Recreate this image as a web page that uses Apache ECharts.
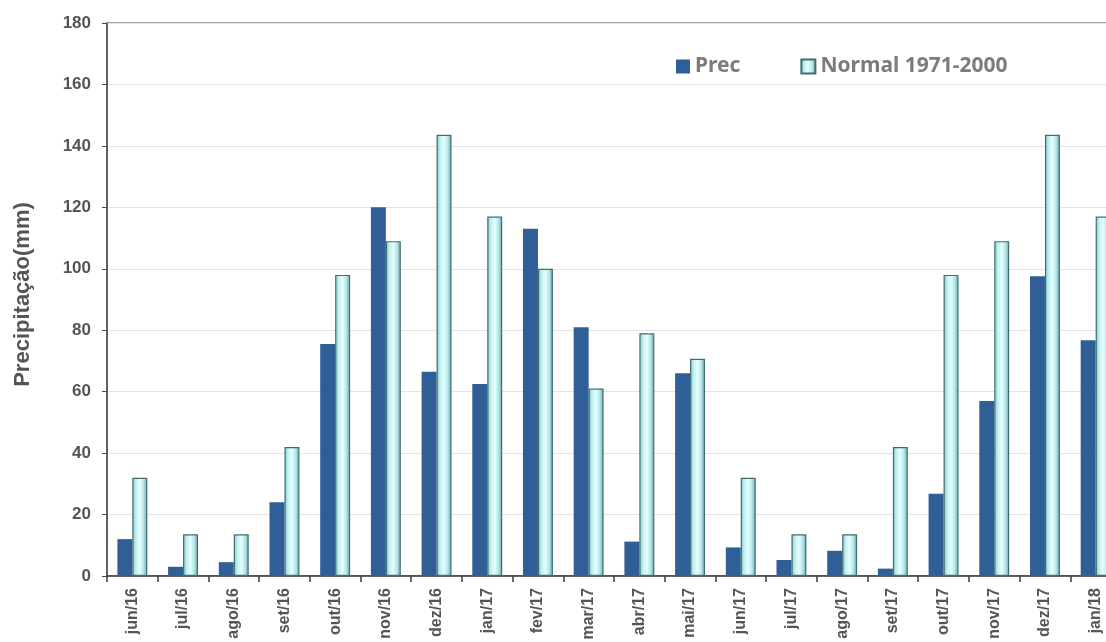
<!DOCTYPE html>
<html>
<head>
<meta charset="utf-8">
<script src="https://cdn.jsdelivr.net/npm/echarts@6/dist/echarts.min.js"></script>
<style>
  html, body { margin: 0; padding: 0; background: #ffffff; }
  #chart { width: 1106px; height: 642px; }
</style>
</head>
<body>
<div id="chart"></div>
<script>
// Monthly precipitation vs. climatological normal
const categories = ['jun/16', 'jul/16', 'ago/16', 'set/16', 'out/16', 'nov/16', 'dez/16',
  'jan/17', 'fev/17', 'mar/17', 'abr/17', 'mai/17', 'jun/17', 'jul/17', 'ago/17',
  'set/17', 'out/17', 'nov/17', 'dez/17', 'jan/18'];

const precValues = [12, 3, 4.5, 24, 75.5, 120, 66.5, 62.5, 113, 81, 11.2, 66, 9.3, 5.2, 8.2,
  2.4, 26.8, 57, 97.6, 76.7];

const normalValues = [32, 13.6, 13.6, 42, 98, 109, 143.6, 117, 100, 61, 79, 70.7, 32, 13.6, 13.6,
  42, 98, 109, 143.6, 117];

const yTicks = { min: 0, max: 180, step: 20 };

const seriesNames = ['Prec', 'Normal 1971-2000'];
const axisTitle = 'Precipitação(mm)';

const labelFont = '"Liberation Sans", Arial, sans-serif';
const legendFont = '"Noto Sans", "Open Sans", sans-serif';

const chart = echarts.init(document.getElementById('chart'), null, { renderer: 'canvas' });

// Cylinder-like shading for the normal bars
const cylinderFill = new echarts.graphic.LinearGradient(0, 0, 1, 0, [
  { offset: 0, color: '#86c4c6' },
  { offset: 0.25, color: '#c4f1f2' },
  { offset: 0.5, color: '#e4ffff' },
  { offset: 0.75, color: '#b6e6e8' },
  { offset: 1, color: '#6aa4a6' }
]);

chart.setOption({
  animation: false,
  backgroundColor: '#ffffff',
  grid: {
    left: 107,
    top: 23,
    width: 1014,
    height: 553,
    outerBoundsMode: 'none',
    containLabel: false,
    show: true,
    borderColor: '#4a4a4a',
    borderWidth: 1,
    backgroundColor: 'transparent'
  },
  legend: {
    left: 676,
    top: 56,
    padding: 0,
    itemWidth: 14,
    itemHeight: 14,
    itemGap: 60,
    icon: 'rect',
    textStyle: {
      fontFamily: legendFont,
      fontWeight: 'bold',
      fontSize: 21,
      color: '#7c7c7c'
    },
    data: seriesNames
  },
  xAxis: {
    type: 'category',
    data: categories,
    boundaryGap: true,
    axisLine: { show: true, lineStyle: { color: '#3a3a3a', width: 1.5 } },
    axisTick: { show: true, length: 6, lineStyle: { color: '#3a3a3a', width: 1.5 } },
    axisLabel: {
      rotate: 90,
      margin: 12,
      fontFamily: labelFont,
      fontWeight: 'bold',
      fontSize: 16,
      color: '#555555'
    },
    splitLine: { show: false }
  },
  yAxis: {
    type: 'value',
    min: yTicks.min,
    max: yTicks.max,
    interval: yTicks.step,
    name: axisTitle,
    nameLocation: 'middle',
    nameGap: 73,
    nameTextStyle: {
      fontFamily: labelFont,
      fontWeight: 'bold',
      fontSize: 22,
      color: '#555555',
      padding: [0, 0, 0, 10]
    },
    axisLine: { show: true, lineStyle: { color: '#4a4a4a', width: 1.5 } },
    axisTick: { show: true, length: 5, lineStyle: { color: '#4a4a4a' } },
    axisLabel: {
      margin: 16,
      fontFamily: labelFont,
      fontWeight: 'bold',
      fontSize: 17,
      color: '#555555'
    },
    splitLine: { show: true, lineStyle: { color: '#e3e3e3', width: 1 } }
  },
  series: [
    {
      name: seriesNames[0],
      type: 'bar',
      data: precValues,
      barGap: '0%',
      barCategoryGap: '41%',
      itemStyle: { color: '#2f5f96' }
    },
    {
      name: seriesNames[1],
      type: 'bar',
      data: normalValues,
      barGap: '0%',
      barCategoryGap: '41%',
      itemStyle: { color: cylinderFill, borderColor: '#3f6f72', borderWidth: 1.2 }
    }
  ]
});
</script>
</body>
</html>
